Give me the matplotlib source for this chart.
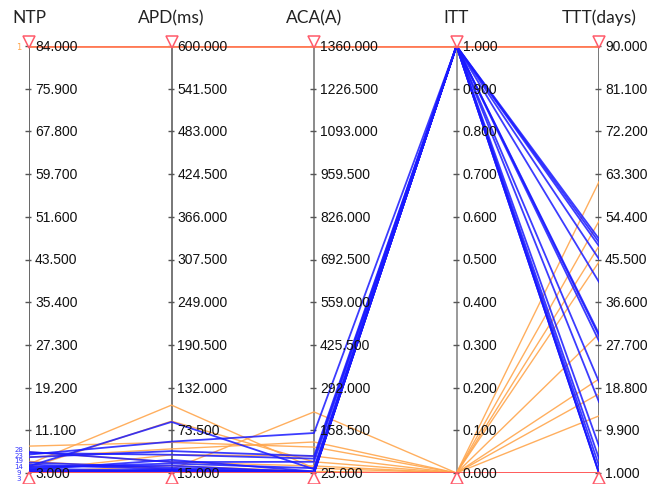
import matplotlib
matplotlib.use("Agg")
import matplotlib.pyplot as plt
from matplotlib.transforms import offset_copy

# ---- data ----
axes_names = ["NTP", "APD(ms)", "ACA(A)", "ITT", "TTT(days)"]
axes_min = [3.0, 15.0, 25.0, 0.0, 1.0]
axes_max = [84.0, 600.0, 1360.0, 1.0, 90.0]

# blue series (ITT = 1)
blue_ntp = [7.0, 6.5, 6.0, 4.3, 5.0, 4.6, 4.2, 3.8, 3.5, 3.3, 3.2, 3.0, 3.1, 4.0, 6.8, 3.6]
blue_apd = [30, 58, 45, 85, 22, 20, 25, 18, 17, 16, 20, 15, 19, 28, 40, 33]
blue_aca = [60, 150, 78, 37, 30, 28, 27, 26, 26, 25, 25, 25, 27, 40, 70, 30]
blue_itt = [1] * 16
blue_ttt = [49.8, 49.1, 48.3, 45.6, 40.8, 30.0, 29.6, 28.5, 20.0, 15.8, 6.6, 2.5, 1.0, 1.0, 4.0, 1.0]

# line id labels shown left of NTP axis (id, NTP level)
id_labels = ["28", "23", "19", "14", "9", "3"]
id_levels = [7.6, 6.5, 5.4, 4.3, 3.2, 2.1]

# orange series (ITT = 0)
orange_ntp = [4.7, 4.0, 8.1, 6.0, 5.2, 3.5, 7.0, 3.2]
orange_apd = [108, 86, 57, 48, 20, 40, 30, 25]
orange_aca = [40, 60, 106, 122, 216, 78, 47, 30]
orange_itt = [0] * 8
orange_ttt = [20.6, 12.9, 61.7, 53.5, 48.3, 45.0, 30.0, 17.5]

n_ticks = 11

# ---- figure ----
W, H = 659, 485
fig = plt.figure(figsize=(W / 100, H / 100), dpi=100)
x0, x1, y0, y1 = 29, 599, 474, 47
ax = fig.add_axes([x0 / W, (H - y0) / H, (x1 - x0) / W, (y0 - y1) / H])
ax.set_xlim(0, 4)
ax.set_ylim(0, 1)
ax.axis("off")

xs = list(range(len(axes_names)))


def norm(vals):
    return [(v - lo) / (hi - lo) for v, lo, hi in zip(vals, axes_min, axes_max)]


# axis lines
axis_cols = ["#666666", "#777777", "#8a8a8a", "#9a9a9a", "#777777"]
for i in xs:
    ax.plot([i, i], [0, 1], color=axis_cols[i], lw=1.4, zorder=1, solid_capstyle="butt")

# orange lines
for row in zip(orange_ntp, orange_apd, orange_aca, orange_itt, orange_ttt):
    ax.plot(xs, norm(row), color="#ffa64d", lw=1.0, alpha=0.9, zorder=2)

# blue lines
for row in zip(blue_ntp, blue_apd, blue_aca, blue_itt, blue_ttt):
    ax.plot(xs, norm(row), color="#1a1aff", lw=1.3, alpha=0.85, zorder=3)

# max / min boundary lines
ax.plot(xs, norm(axes_max), color="#ff7a55", lw=2.0, zorder=4)
ax.plot(xs, norm(axes_min), color="#ff5a5a", lw=1.4, zorder=4)

# triangle markers
top_tr = offset_copy(ax.transData, fig=fig, x=0, y=4, units="dots")
bot_tr = offset_copy(ax.transData, fig=fig, x=0, y=-5, units="dots")
ax.plot(xs, [1] * 5, linestyle="none", marker="v", ms=9, mfc="white", mec="#ff5a6a",
        mew=1.1, transform=top_tr, clip_on=False, zorder=5)
ax.plot(xs, [0] * 5, linestyle="none", marker="^", ms=9, mfc="white", mec="#ff5a6a",
        mew=1.1, transform=bot_tr, clip_on=False, zorder=5)

# ticks and labels
lab_tr = offset_copy(ax.transData, fig=fig, x=6, y=0, units="dots")
tick_tr = offset_copy(ax.transData, fig=fig, x=-1, y=0, units="dots")
for i in xs:
    lo, hi = axes_min[i], axes_max[i]
    for k in range(n_ticks):
        frac = k / (n_ticks - 1)
        val = lo + (hi - lo) * frac
        ax.plot([i], [frac], marker="_", ms=5, color="#555555", mew=1.0,
                transform=tick_tr, clip_on=False, zorder=1)
        ax.text(i, frac, f"{val:.3f}", transform=lab_tr, ha="left", va="center",
                fontsize=10, family="Liberation Sans", color="#111111", zorder=6)
    ax.text(i, 1.068, axes_names[i], ha="center", va="center", fontsize=12.5,
            family="Lato", color="#222222")

# line id labels on the left
id_tr = offset_copy(ax.transData, fig=fig, x=-10, y=0, units="dots")
for nid, lvl in zip(id_labels, id_levels):
    v = (lvl - axes_min[0]) / (axes_max[0] - axes_min[0])
    ax.text(0, v, nid, transform=id_tr, ha="center", va="center", fontsize=5,
            color="#3333ff", clip_on=False)
ax.text(0, 1, "1", transform=id_tr, ha="center", va="center", fontsize=6,
        color="#ffa64d", clip_on=False)

fig.savefig("out.png", dpi=100)
